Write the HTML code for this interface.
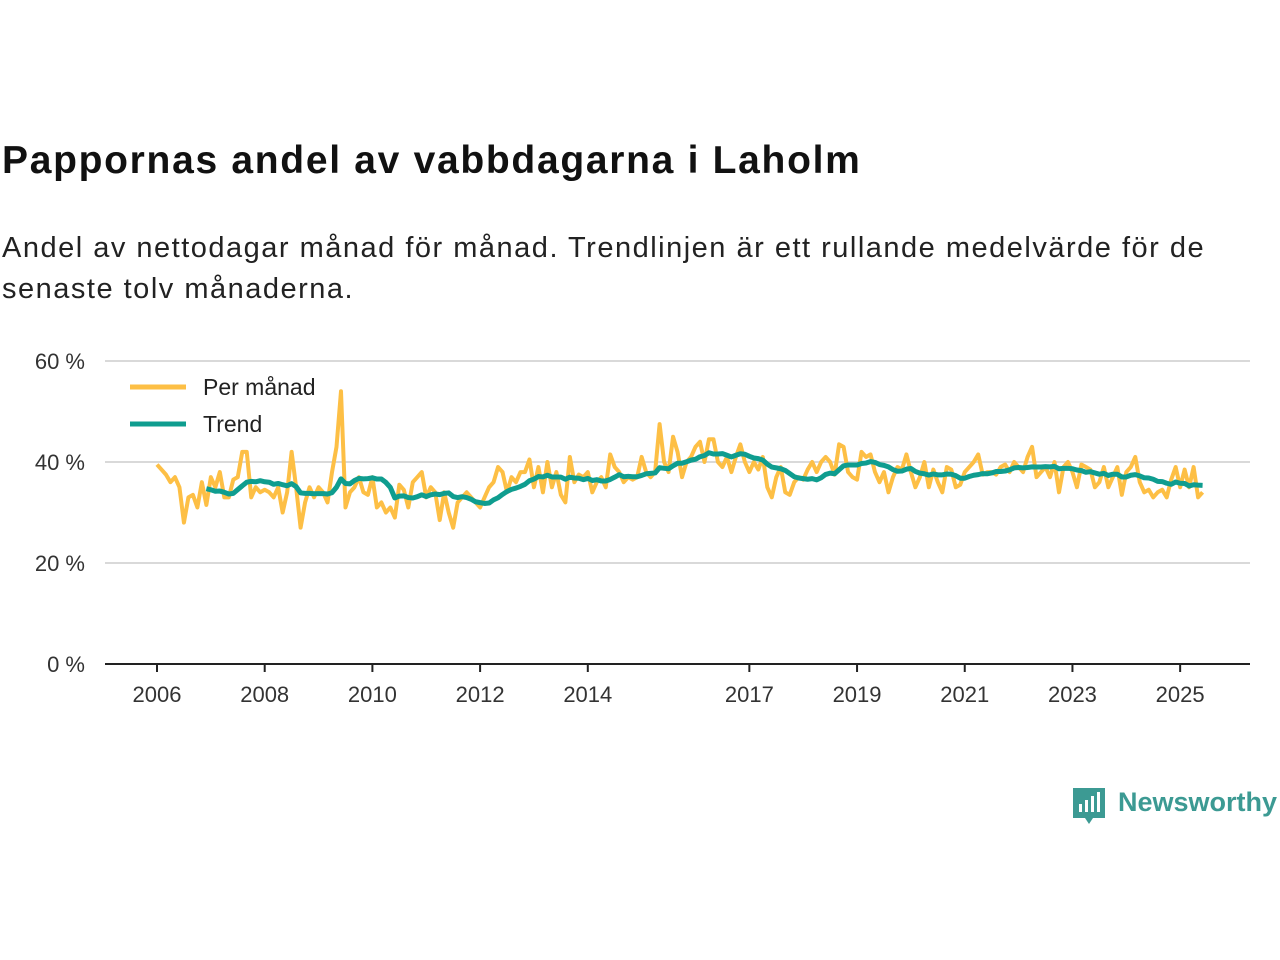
<!DOCTYPE html>
<html><head><meta charset="utf-8"><style>
body{margin:0;width:1280px;height:960px;background:#fff;font-family:"Liberation Sans","DejaVu Sans",sans-serif;color:#111;position:relative;overflow:hidden}
h1{position:absolute;left:2px;top:139px;margin:0;font-size:39px;font-weight:bold;letter-spacing:1.7px}
p{position:absolute;left:2px;top:228px;margin:0;font-size:29px;line-height:41px;width:1275px;color:#222;letter-spacing:1.5px;white-space:nowrap}
</style></head><body>
<h1>Pappornas andel av vabbdagarna i Laholm</h1>
<p>Andel av nettodagar månad för månad. Trendlinjen är ett rullande medelvärde för de<br>senaste tolv månaderna.</p>
<svg id="chart" width="1280" height="960" style="position:absolute;left:0;top:0"></svg>
<div style="position:absolute;left:1073px;top:786px;">
<svg width="34" height="40"><path d="M0 2h32v30H20l-4 6-4-6H0z" fill="#3c9a93"/><rect x="6" y="18" width="3" height="8" fill="#fff"/><rect x="12" y="14" width="3" height="12" fill="#fff"/><rect x="18" y="10" width="3" height="16" fill="#fff"/><rect x="24" y="6" width="3" height="20" fill="#fff"/></svg>
<span style="position:absolute;left:45px;top:1px;font-size:27px;font-weight:bold;color:#3c9a93">Newsworthy</span></div>
<script>
const startYear=2006;
const monthly=[39.5,38.5,37.5,36,37,35,28,33,33.5,31,36,31.5,
37,35,38,33,33,36.5,37,42,42,33,35,34,
34.5,34,33,35,30,34,42,35,27,32,35,33,
35,34,32,38,43,54,31,34,35,37,34,33.5,
37,31,32,30,31,29,35.5,34.5,31,36,37,38,
33,35,34,28.5,34,30,27,32,33,34,33,32,
31,33,35,36,39,38,34,37,36,38,38,40.5,
35,39,34,40,35,38,33.5,32,41,36,37.5,37,
38,34,36,37,35,41.5,39,38,36,37,36.5,37,
41,38,37,38,47.5,40,38,45,42,37,40,41,
43,44,40,44.5,44.5,40,39,41,38,41,43.5,40,
38,40,38.5,41,35,33,37,39,34,33.5,36,37,
36.5,38.5,40,38,40,41,40,37.5,43.5,43,38,37,
36.5,42,41,41.5,38,36,38,34,37,39,38.5,41.5,
38,35,37,40,35,38.5,36,34,39,38.5,35,35.5,
38,39,40,41.5,37.5,38,38,37.5,39,39.5,38,40,
39,38,41,43,37,38,39,37,40,34,39,40,
38,35,39.5,39,38.5,35,36,39,35,37,39,33.5,
38,39,41,36,34,34.5,33,34,34.5,33,36.5,39,
35,38.5,35,39,33,34];
const yTicks=[0,20,40,60];
const xTicks=[2006,2008,2010,2012,2014,2017,2019,2021,2023,2025];
const NS='http://www.w3.org/2000/svg';
const svg=document.getElementById('chart');
const x=t=>157+(t-startYear)*53.85;
const y=v=>664-v*5.05;
function mk(tag,attrs){const e=document.createElementNS(NS,tag);for(const k in attrs)e.setAttribute(k,attrs[k]);svg.appendChild(e);return e;}
yTicks.forEach(v=>{
 if(v>0){const g=mk('line',{x1:105,x2:1250,y1:y(v),y2:y(v),stroke:'#d9d9d9','stroke-width':2});
 
 }
 const t=mk('text',{x:85,y:y(v)+8,'text-anchor':'end','font-size':22,fill:'#333','font-family':'Liberation Sans, sans-serif'});
 t.textContent=v+' %';
 
 
});
const ax=mk('line',{x1:105,x2:1250,y1:664,y2:664,stroke:'#222','stroke-width':2});


xTicks.forEach(yr=>{
 const tk=mk('line',{x1:x(yr),x2:x(yr),y1:664,y2:672,stroke:'#222','stroke-width':2});
 
 
 const t=mk('text',{x:x(yr),y:702,'text-anchor':'middle','font-size':22,fill:'#333','font-family':'Liberation Sans, sans-serif'});
 t.textContent=yr;
 
 
});
const mx=i=>x(startYear+i/12);
const p1=mk('polyline',{points:monthly.map((v,i)=>mx(i)+','+y(v)).join(' '),fill:'none',stroke:'#fdbf45','stroke-width':4,'stroke-linejoin':'round'});


const trend=[];
for(let i=11;i<monthly.length;i++){let s=0;for(let j=i-11;j<=i;j++)s+=monthly[j];trend.push([i,s/12]);}
const p2=mk('polyline',{points:trend.map(([i,v])=>mx(i)+','+y(v)).join(' '),fill:'none',stroke:'#0f9d8f','stroke-width':5,'stroke-linejoin':'round'});


[['Per månad','#fdbf45',387,'legend-per-manad'],['Trend','#0f9d8f',424,'legend-trend']].forEach(([lab,c,yy,n])=>{
 const l=mk('line',{x1:130,x2:186,y1:yy,y2:yy,stroke:c,'stroke-width':5});
 
 
 const t=mk('text',{x:203,y:yy+8,'font-size':23,fill:'#222','font-family':'Liberation Sans, sans-serif'});
 t.textContent=lab;
 
 
});
</script>
</body></html>
